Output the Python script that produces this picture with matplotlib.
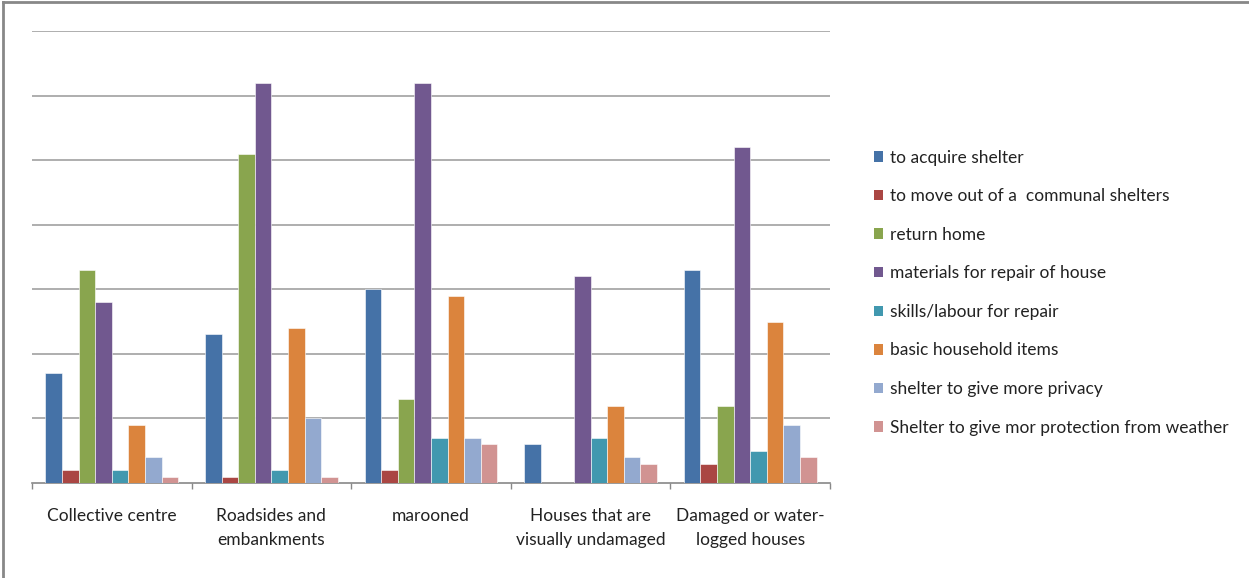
import numpy as np
import matplotlib
matplotlib.use("Agg")
from matplotlib import pyplot as plt
from matplotlib.lines import Line2D
from matplotlib.patches import Patch

# Categories and series
locations = ["Collective centre", "Roadsides and\nembankments", "marooned",
             "Houses that are\nvisually undamaged", "Damaged or water-\nlogged houses"]
series = ["to acquire shelter", "to move out of a  communal shelters", "return home",
          "materials for repair of house", "skills/labour for repair", "basic household items",
          "shelter to give more privacy", "Shelter to give mor protection from weather"]

acquire = [8.5, 11.5, 15, 3, 16.5]
move_out = [1, 0.5, 1, 0, 1.5]
return_home = [16.5, 25.5, 6.5, 0, 6]
materials = [14, 31, 31, 16, 26]
labour = [1, 1, 3.5, 3.5, 2.5]
household = [4.5, 12, 14.5, 6, 12.5]
privacy = [2, 5, 3.5, 2, 4.5]
weather = [0.5, 0.5, 3, 1.5, 2]

values = [acquire, move_out, return_home, materials, labour, household, privacy, weather]
colors = ["#4572A7", "#AA4643", "#89A54E", "#71588F", "#4198AF", "#DB843D", "#93A9CF", "#D19392"]

W, H = 1249, 578
fig = plt.figure(figsize=(W / 100, H / 100), dpi=100)
fig.patch.set_facecolor("white")

ax = fig.add_axes([32 / W, (H - 483) / H, (830 - 32) / W, (483 - 31) / H])

n = len(series)
bw = 0.104
start = (1 - n * bw) / 2
x = np.arange(len(locations))
for i in range(n):
    ax.bar(x + start + i * bw, values[i], width=bw, align="edge", color=colors[i],
           edgecolor="white", linewidth=0.4, zorder=3)

ax.set_xlim(0, len(locations))
ax.set_ylim(0, 35)
ax.set_yticks(np.arange(5, 36, 5))
ax.yaxis.grid(True, color="#999999", linewidth=1.1)
ax.tick_params(axis="y", length=0, labelleft=False)

# category boundaries as ticks, names as minor labels
ax.set_xticks(np.arange(0, len(locations) + 1))
ax.set_xticklabels([])
ax.set_xticks(x + 0.5, minor=True)
ax.set_xticklabels(locations, minor=True, fontsize=12.5, family="Lato", color="#222222",
                   linespacing=1.6)
ax.tick_params(axis="x", which="major", length=4, color="#888888", width=1)
ax.tick_params(axis="x", which="minor", length=0, pad=18)

for s in ["top", "right", "left"]:
    ax.spines[s].set_visible(False)
ax.spines["bottom"].set_color("#888888")
ax.spines["bottom"].set_linewidth(1.2)

handles = [Patch(facecolor=c, edgecolor="none") for c in colors]
fig.legend(handles, series, loc="upper left", bbox_to_anchor=(858 / W, 1 - 134 / H),
           frameon=False, prop={"family": "Lato", "size": 12.5},
           handlelength=0.55, handleheight=0.55, handletextpad=0.4, labelspacing=1.3,
           labelcolor="#222222")

# outer chart frame (top and left edges)
fig.add_artist(Line2D([3 / W, 1], [1 - 2 / H, 1 - 2 / H], transform=fig.transFigure,
                      color="#888888", linewidth=2))
fig.add_artist(Line2D([3 / W, 3 / W], [0, 1 - 2 / H], transform=fig.transFigure,
                      color="#888888", linewidth=2))

fig.savefig("out.png", dpi=100)
